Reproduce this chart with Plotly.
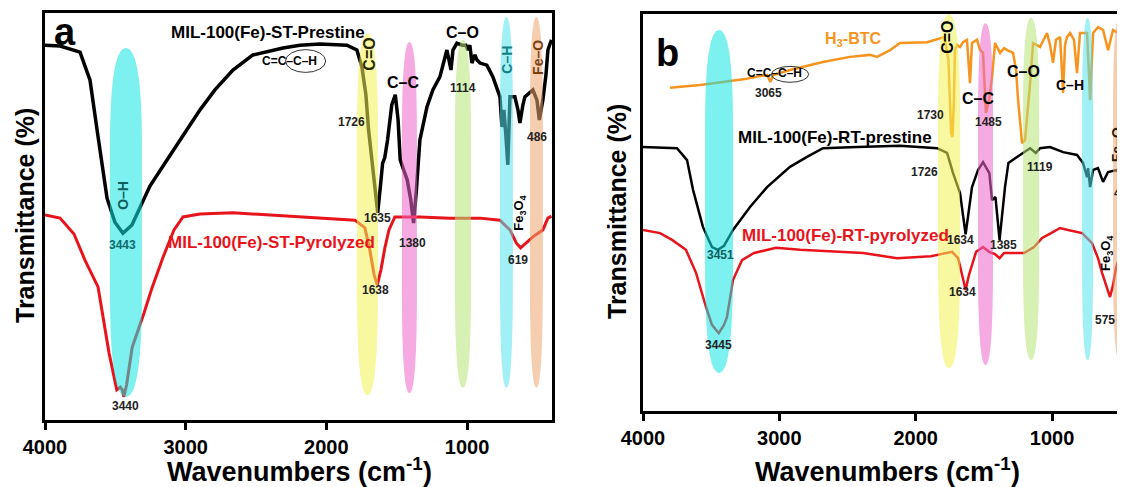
import plotly.graph_objects as go

# ---------------- Panel a data (MIL-100(Fe)-ST) ----------------
a_pre_wn = [4000,3893,3751,3680,3630,3559,3503,3446,3382,3325,3254,3133,3005,2898,2792,2664,2522,2308,2188,2046,
            1854,1783,1747,1719,1700,1670,1655,1635,1615,1600,1585,1565,1535,1510,1490,1475,1450,1425,1400,1380,
            1360,1335,1285,1243,1193,1143,1114,1100,1072,1036,1008,994,980,965,944,930,908,859,816,766,
            752,738,724,710,695,660,638,624,603,589,532,503,486,461,439,425,400]
a_pre_T = [92.1,91.9,90.4,83.5,71.3,54.5,48.6,45.9,47.9,52.3,57.5,63.9,70.5,76.2,81.1,86.0,89.7,91.4,92.1,92.4,
           92.1,90.9,86.7,79.9,71.3,62.7,57.2,50.9,57.7,63.1,64.4,68.8,77.4,79.9,73.7,63.9,61.4,59.0,54.1,48.4,
           56.5,68.8,76.9,81.1,84.3,90.9,86.0,90.9,92.6,92.1,92.1,90.9,92.1,87.7,89.7,88.5,87.7,87.2,84.3,79.4,
           72.0,76.2,70.0,62.7,79.4,79.4,76.2,73.0,77.4,79.4,81.1,78.6,73.7,78.6,84.8,90.9,93.4]

a_pyr_wn = [4000,3893,3794,3716,3623,3545,3490,3465,3450,3440,3420,3380,3296,3240,3161,3112,3083,3019,2898,2664,
            2308,2046,1797,1726,1691,1660,1638,1612,1584,1555,1513,1335,1122,908,766,695,650,619,574,532,
            482,461,425,400]
a_pyr_T = [50.4,49.6,45.7,39.3,32.7,16.5,7.4,8.1,7.4,5.7,8.6,17.9,26.3,32.4,40.0,44.2,46.7,49.9,50.6,50.9,
           50.1,49.6,49.1,47.2,41.8,35.6,33.2,36.9,42.3,46.7,49.9,49.9,49.6,49.6,49.1,46.7,43.5,42.3,43.7,45.0,
           46.2,46.7,49.6,50.1]

# ---------------- Panel b data (MIL-100(Fe)-RT) ----------------
b_btc_wn = [3802,3582,3413,3252,3142,3090,3065,3046,2922,2680,2482,2335,2284,2188,2115,1917,1790,1760,1740,1730,
            1720,1712,1697,1675,1653,1624,1602,1587,1550,1528,1506,1495,1485,1462,1440,1418,1381,1352,1330,1286,
            1264,1249,1220,1198,1176,1161,1139,1088,1037,1015,993,971,941,919,905,890,868,839,817,795,
            743,721,699,663,626,589,553,516,487,465]
b_btc_T = [81.4,82.1,82.9,83.6,84.4,84.6,82.9,84.6,85.9,87.9,89.2,89.7,89.2,90.9,92.7,92.9,94.2,88.4,70.0,69.0,
           78.3,90.9,92.2,91.7,92.9,93.5,82.6,92.7,93.5,90.9,90.2,83.4,75.1,78.3,84.1,92.7,90.2,91.4,90.9,90.2,
           85.9,78.3,67.5,68.3,75.8,82.6,92.7,91.7,95.2,92.2,87.7,93.5,94.2,80.1,92.2,94.2,95.2,93.5,85.1,95.2,
           95.2,78.3,95.2,96.7,96.0,90.9,96.0,95.2,89.2,94.7]

b_pre_wn = [4000,3751,3677,3633,3560,3494,3451,3406,3340,3215,3090,2922,2797,2680,2430,2115,1843,1770,1726,1675,
            1634,1587,1543,1506,1460,1440,1415,1385,1345,1320,1257,1161,1119,1088,1015,919,817,773,743,736,
            721,699,663,626,589,523,487,465]
b_pre_T = [66.5,66.2,63.2,55.7,46.3,41.3,40.6,41.6,45.6,51.4,56.4,61.5,64.0,66.2,66.5,66.8,66.2,65.0,59.9,54.9,
           44.5,56.4,60.7,62.7,59.9,53.1,53.9,43.1,56.4,62.5,64.0,66.2,65.0,66.2,66.5,65.2,64.5,62.5,58.9,61.2,
           56.4,60.7,61.2,57.7,60.2,60.7,57.4,59.4]

b_pyr_wn = [4000,3875,3787,3685,3611,3538,3494,3445,3406,3384,3340,3274,3186,3083,3024,2848,2628,2386,2137,1888,
            1733,1689,1660,1634,1609,1557,1506,1462,1418,1385,1352,1308,1205,1132,1073,1007,941,883,780,707,
            663,633,575,553,531,502,465]
b_pyr_T = [45.6,44.8,43.1,40.6,34.8,26.2,21.7,19.6,21.7,23.7,33.0,38.0,39.8,40.6,41.1,40.6,40.3,39.8,38.5,39.0,
           40.1,38.5,34.3,30.5,34.3,40.1,41.3,40.1,39.5,38.5,39.8,39.8,39.8,41.3,43.6,44.8,46.1,45.6,44.8,42.3,
           38.5,34.8,28.7,31.7,36.0,39.3,40.6]

# ---------------- Highlight bands ----------------
band_names = ["O–H", "C=O", "C–C", "C–O", "C–H", "Fe–O"]
band_colors = ["rgb(18,227,227)", "rgb(242,242,82)", "rgb(236,100,200)",
               "rgb(182,227,118)", "rgb(82,227,236)", "rgb(236,164,109)"]
a_band_hi = [3538, 1783, 1463, 1086, 766, 553]
a_band_lo = [3311, 1633, 1356, 972, 674, 461]
a_band_top = [91.4, 95.0, 92.9, 93.4, 99.0, 99.0]
a_band_bottom = [5.7, 6.1, 6.6, 7.9, 7.9, 7.9]
b_band_hi = [3545, 1836, 1543, 1213, 780, 553]
b_band_lo = [3340, 1675, 1433, 1095, 699, 460]
b_band_top = [96.0, 100.0, 97.7, 99.0, 99.0, 99.0]
b_band_bottom = [9.6, 10.8, 11.6, 12.8, 12.8, 12.8]

tick_vals = [4000, 3000, 2000, 1000]

FONT = "Liberation Sans, Arial, sans-serif"
BLACK = "#000000"
RED = "#E8141C"
ORANGE = "#F7941D"
NUM = "#222222"

PAGE_OFFSET = 8  # default body margin of the html page
WIN_W, WIN_H = 1125, 487
W, H = WIN_W - PAGE_OFFSET, WIN_H - PAGE_OFFSET  # figure fits the window exactly


def fx(px):
    """window pixel x -> paper fraction"""
    return (px - PAGE_OFFSET) / W


def fy(py):
    """window pixel y -> paper fraction"""
    return 1 - (py - PAGE_OFFSET) / H


fig = go.Figure()
fig.add_trace(go.Scatter(x=a_pre_wn, y=a_pre_T, mode="lines", line=dict(color=BLACK, width=3.5),
                         xaxis="x", yaxis="y", showlegend=False))
fig.add_trace(go.Scatter(x=a_pyr_wn, y=a_pyr_T, mode="lines", line=dict(color=RED, width=3),
                         xaxis="x", yaxis="y", showlegend=False))
fig.add_trace(go.Scatter(x=b_btc_wn, y=b_btc_T, mode="lines", line=dict(color=ORANGE, width=2.5),
                         xaxis="x2", yaxis="y2", showlegend=False))
fig.add_trace(go.Scatter(x=b_pre_wn, y=b_pre_T, mode="lines", line=dict(color=BLACK, width=2.5),
                         xaxis="x2", yaxis="y2", showlegend=False))
fig.add_trace(go.Scatter(x=b_pyr_wn, y=b_pyr_T, mode="lines", line=dict(color=RED, width=2.5),
                         xaxis="x2", yaxis="y2", showlegend=False))


def band_path(hi, lo, top, bottom):
    c = (hi + lo) / 2
    h = top - bottom
    ut = top - 0.28 * h
    lb = bottom + 0.3 * h
    return (f"M {c},{top} Q {lo},{top} {lo},{ut} L {lo},{lb} Q {lo},{bottom} {c},{bottom} "
            f"Q {hi},{bottom} {hi},{lb} L {hi},{ut} Q {hi},{top} {c},{top} Z")


shapes = []
for xr, yr, his, los, tops, bots in [("x", "y", a_band_hi, a_band_lo, a_band_top, a_band_bottom),
                                     ("x2", "y2", b_band_hi, b_band_lo, b_band_top, b_band_bottom)]:
    for hi, lo, tp, bt, col in zip(his, los, tops, bots, band_colors):
        shapes.append(dict(type="path", xref=xr, yref=yr, path=band_path(hi, lo, tp, bt),
                           fillcolor=col, opacity=0.55, line=dict(width=0), layer="above"))

# ellipses around "C–H" in the C=C–C–H labels
ring_x0 = [2290, 3058]
ring_x1 = [2005, 2785]
ring_y0 = [85.4, 82.8]
ring_y1 = [91.0, 86.8]
for i, (xr, yr) in enumerate([("x", "y"), ("x2", "y2")]):
    shapes.append(dict(type="circle", xref=xr, yref=yr, x0=ring_x0[i], x1=ring_x1[i],
                       y0=ring_y0[i], y1=ring_y1[i], line=dict(color="#333333", width=1),
                       fillcolor="rgba(0,0,0,0)", layer="above"))

# annotations: (text, x, y, size, color, angle)
a_labels = [
    ("a", 3858, 95.3, 38, BLACK, 0),
    ("MIL-100(Fe)-ST-Prestine", 2415, 95.3, 17, BLACK, 0),
    ("C=C–C–H", 2265, 88.3, 12, BLACK, 0),
    ("C=O", 1690, 90.0, 16, "#262600", -90),
    ("1726", 1818, 73.2, 12, NUM, 0),
    ("C–C", 1456, 83.0, 16, BLACK, 0),
    ("C–O", 1029, 95.1, 16, BLACK, 0),
    ("1114", 1029, 81.6, 12, NUM, 0),
    ("C–H", 717, 88.5, 14, "#157F86", -90),
    ("Fe–O", 496, 89.2, 14, "#7A3E12", -90),
    ("486", 503, 69.5, 12, NUM, 0),
    ("1635", 1633, 49.6, 12, NUM, 0),
    ("1380", 1385, 43.5, 12, NUM, 0),
    ("Fe<sub>3</sub>O<sub>4</sub>", 624, 50.9, 13, BLACK, -90),
    ("619", 638, 39.3, 12, NUM, 0),
    ("1638", 1648, 31.9, 12, NUM, 0),
    ("3443", 3446, 43.0, 12, "#0E6B6B", 0),
    ("O–H", 3446, 55.3, 14, "#0E5E5E", -90),
    ("3440", 3431, 3.4, 12, NUM, 0),
    ("MIL-100(Fe)-ST-Pyrolyzed", 2387, 43.5, 17, RED, 0),
]
b_labels = [
    ("b", 3817, 90.2, 38, BLACK, 0),
    ("H<sub>3</sub>-BTC", 2460, 93.5, 16, ORANGE, 0),
    ("C=C–C–H", 3037, 85.1, 12, BLACK, 0),
    ("3065", 3083, 80.1, 12, NUM, 0),
    ("MIL-100(Fe)-RT-prestine", 2592, 69.0, 17, BLACK, 0),
    ("1730", 1895, 74.6, 12, NUM, 0),
    ("C=O", 1763, 94.0, 16, BLACK, -90),
    ("C–C", 1543, 78.8, 16, BLACK, 0),
    ("1485", 1469, 72.8, 12, NUM, 0),
    ("C–O", 1213, 85.4, 16, BLACK, 0),
    ("C–H", 868, 82.1, 14, BLACK, 0),
    ("Fe–O", 522, 67.0, 14, "#2A1A0A", -90),
    ("1726", 1932, 60.2, 12, NUM, 0),
    ("1119", 1088, 61.5, 12, NUM, 0),
    ("1634", 1675, 43.1, 12, NUM, 0),
    ("1385", 1359, 41.8, 12, NUM, 0),
    ("MIL-100(Fe)-RT-pyrolyzed", 2518, 44.3, 17, RED, 0),
    ("3451", 3435, 39.3, 12, "#0E5E5E", 0),
    ("3445", 3443, 16.6, 12, NUM, 0),
    ("1634", 1660, 30.0, 12, NUM, 0),
    ("Fe<sub>3</sub>O<sub>4</sub>", 597, 39.8, 13, BLACK, -90),
    ("575", 611, 22.9, 12, NUM, 0),
]

annotations = []
for labels, xr, yr in [(a_labels, "x", "y"), (b_labels, "x2", "y2")]:
    for txt, x, y, size, col, ang in labels:
        annotations.append(dict(text=txt, x=x, y=y, xref=xr, yref=yr, showarrow=False,
                                textangle=ang, xanchor="center", yanchor="middle",
                                font=dict(family=FONT, size=size, color=col, weight="bold")))
# "486" running off the right edge of panel b (as in the reference)
annotations.append(dict(text="486", x=560, y=54.9, xref="x2", yref="y2", showarrow=False,
                        xanchor="left", yanchor="middle",
                        font=dict(family=FONT, size=12, color=NUM, weight="bold")))

# axis titles
for x, y in [(fx(299), fy(470)), (fx(887), fy(470))]:
    annotations.append(dict(text="Wavenumbers (cm<sup>-1</sup>)", x=x, y=y, xref="paper", yref="paper",
                            showarrow=False, xanchor="center", yanchor="middle",
                            font=dict(family=FONT, size=27, color=BLACK, weight="bold")))
for x, y in [(fx(25), fy(216)), (fx(617), fy(212))]:
    annotations.append(dict(text="Transmittance (%)", x=x, y=y, xref="paper", yref="paper",
                            showarrow=False, textangle=-90, xanchor="center", yanchor="middle",
                            font=dict(family=FONT, size=25, color=BLACK, weight="bold")))

xcommon = dict(showline=True, linewidth=2.5, linecolor=BLACK, mirror=True, ticks="outside",
               ticklen=7, tickwidth=2.5, tickcolor=BLACK, tickvals=tick_vals,
               tickfont=dict(family=FONT, size=20, color=BLACK, weight="bold"),
               showgrid=False, zeroline=False, automargin=False)
ycommon = dict(showline=True, linewidth=2.5, linecolor=BLACK, showticklabels=False, ticks="",
               showgrid=False, zeroline=False, range=[0, 100], automargin=False)

fig.update_layout(
    width=W, height=H,
    margin=dict(l=0, r=0, t=0, b=0, pad=0, autoexpand=False),
    paper_bgcolor="white", plot_bgcolor="white",
    xaxis=dict(domain=[fx(45), fx(552)], range=[4000, 396], anchor="y", **xcommon),
    yaxis=dict(domain=[fy(420), fy(13)], anchor="x", mirror=True, **ycommon),
    xaxis2=dict(domain=[fx(643), fx(1125)], range=[4000, 465], anchor="y2", **xcommon),
    yaxis2=dict(domain=[fy(411), fy(14)], anchor="x2", mirror=False, **ycommon),
    shapes=shapes,
    annotations=annotations,
)

fig.write_html("out.html")
